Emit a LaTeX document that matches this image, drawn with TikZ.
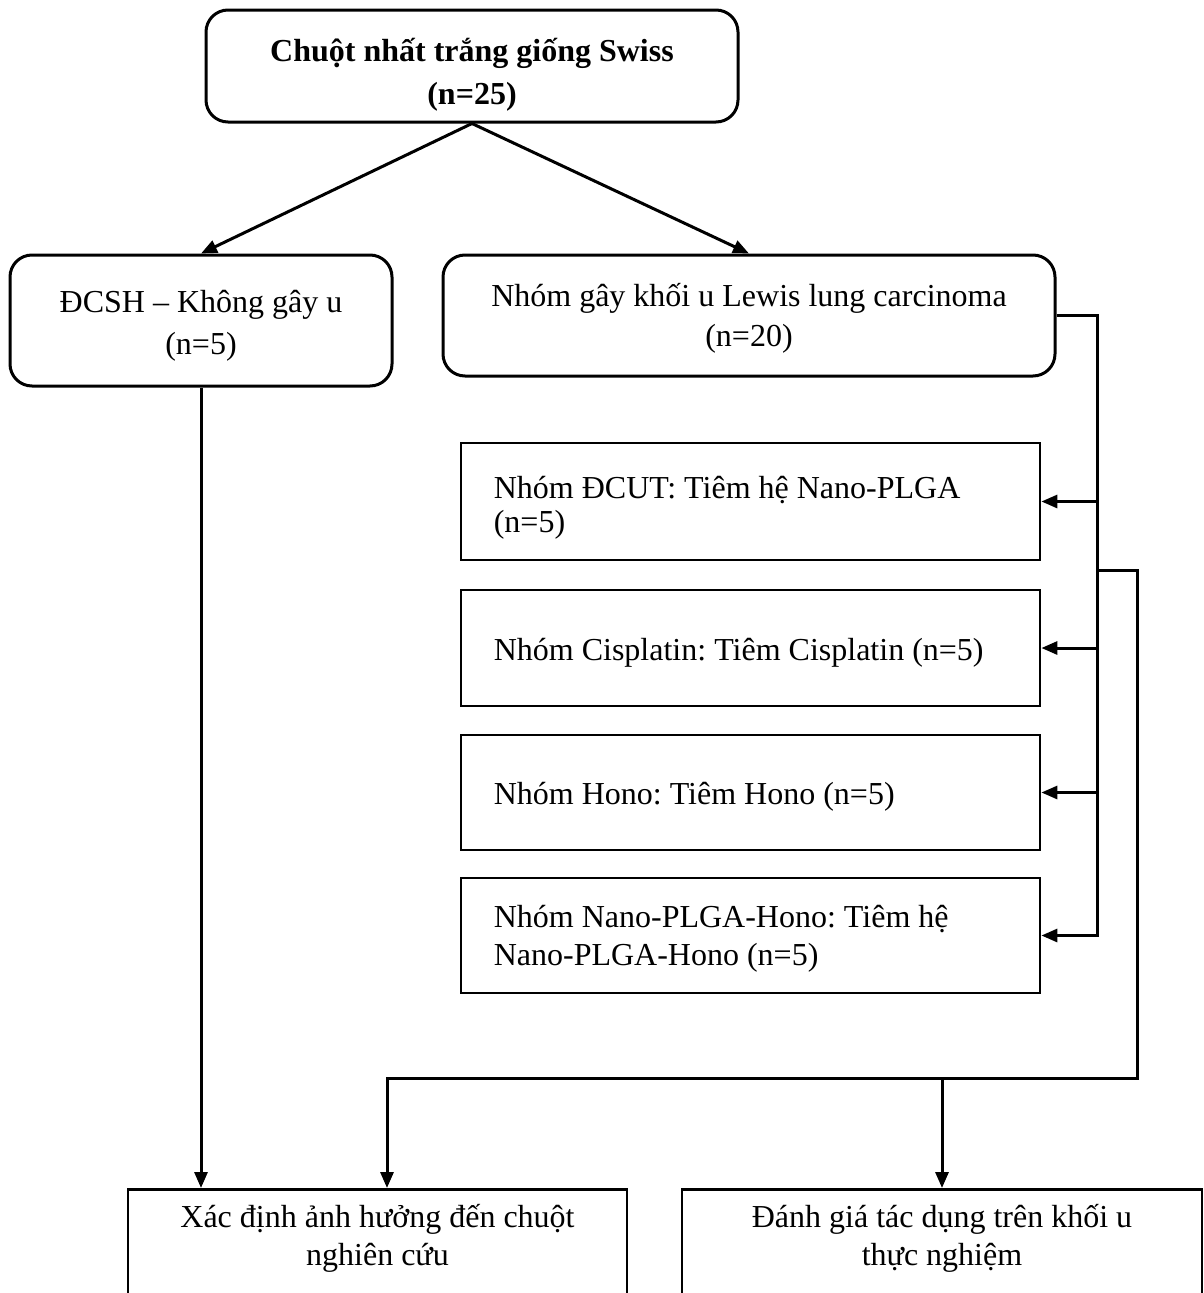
\documentclass[tikz,border=0pt]{standalone}
\usepackage{fontspec}
\setmainfont{Liberation Serif}
\usetikzlibrary{arrows.meta}
\begin{document}
\begin{tikzpicture}[x=1pt,y=-1pt,
  box/.style={draw, line width=3pt, rounded corners=22pt, inner sep=0pt},
  sbox/.style={draw, line width=2.8pt, minimum width=579pt, inner sep=0pt},
  bbox/.style={draw, line width=2.8pt, minimum height=200pt, anchor=north, inner sep=0pt},
  ctext/.style={align=center, inner sep=0pt, font=\frenchspacing\fontsize{32}{41}\selectfont},
  ltext/.style={align=left, inner sep=0pt, anchor=west, font=\frenchspacing\fontsize{32}{38}\selectfont},
  arr/.style={-{Triangle[length=16pt,width=13pt]}, line width=3pt}]
\useasboundingbox (0,0) rectangle (1203,1293);
\clip (0,0) rectangle (1203,1293);
\fill[white] (0,0) rectangle (1203,1293);

% rounded boxes
\node[box, minimum width=532pt, minimum height=112pt] (top) at (472,66) {};
\node[ctext, font=\frenchspacing\bfseries\fontsize{32}{43}\selectfont, yshift=-9pt] (topt) at (top.center) {Chuột nhất trắng giống Swiss\\(n=25)};
\node[box, minimum width=382pt, minimum height=131pt] (lb) at (201,320.5) {};
\node[ctext, font=\frenchspacing\fontsize{32}{42}\selectfont, yshift=-5pt] (lbt) at (lb.center) {ĐCSH – Không gây u\\(n=5)};
\node[box, minimum width=612pt, minimum height=121pt] (rb) at (749,315.5) {};
\node[ctext, font=\frenchspacing\fontsize{32}{40}\selectfont, yshift=-3pt] (rbt) at (rb.center) {Nhóm gây khối u Lewis lung carcinoma\\(n=20)};

% treatment boxes
\node[sbox, minimum height=117pt] (t1) at (750.5,501.5) {};
\node[ltext, font=\frenchspacing\fontsize{32}{34}\selectfont, yshift=-6pt] (t1t) at ([xshift=34pt]t1.west) {Nhóm ĐCUT: Tiêm hệ Nano-PLGA\\(n=5)};
\node[sbox, minimum height=116pt] (t2) at (750.5,648) {};
\node[ltext, yshift=-5pt] (t2t) at ([xshift=34pt]t2.west) {Nhóm Cisplatin: Tiêm Cisplatin (n=5)};
\node[sbox, minimum height=115pt] (t3) at (750.5,792.5) {};
\node[ltext, yshift=-4pt] (t3t) at ([xshift=34pt]t3.west) {Nhóm Hono: Tiêm Hono (n=5)};
\node[sbox, minimum height=115pt] (t4) at (750.5,935.5) {};
\node[ltext, yshift=-3pt] (t4t) at ([xshift=34pt]t4.west) {Nhóm Nano-PLGA-Hono: Tiêm hệ\\Nano-PLGA-Hono (n=5)};

% bottom boxes
\node[bbox, minimum width=499pt] (lbot) at (377.5,1188) {};
\node[ctext, font=\frenchspacing\fontsize{32}{38}\selectfont] (lbt2) at (377.5,1238) {Xác định ảnh hưởng đến chuột\\nghiên cứu};
\node[bbox, minimum width=520pt] (rbot) at (942,1188) {};
\node[ctext, font=\frenchspacing\fontsize{32}{38}\selectfont] (rbt2) at (942,1238) {Đánh giá tác dụng trên khối u\\thực nghiệm};

% connectors
\draw[arr] (top.south) -- (lb.north);
\draw[arr] (top.south) -- (rb.north);

\coordinate (busT) at (1097,315.5);
\coordinate (busB) at (1097,935.5);
\draw[arr] (rb.east) -- (busT) -- (busB) -- (t4.east);
\draw[arr] (t1.east -| busT) -- (t1.east);
\draw[arr] (t2.east -| busT) -- (t2.east);
\draw[arr] (t3.east -| busT) -- (t3.east);

\coordinate (j) at (1097,570);
\coordinate (r2) at (1137,570);
\coordinate (r3) at (1137,1078);
\coordinate (l3) at (387,1078);
\draw[arr] (j) -- (r2) -- (r3) -- (l3) -- (l3 |- lbot.north);
\draw[arr] (rbot.north |- r3) -- (rbot.north);
\draw[arr] (lb.south) -- (lb.south |- lbot.north);
\end{tikzpicture}
\end{document}
